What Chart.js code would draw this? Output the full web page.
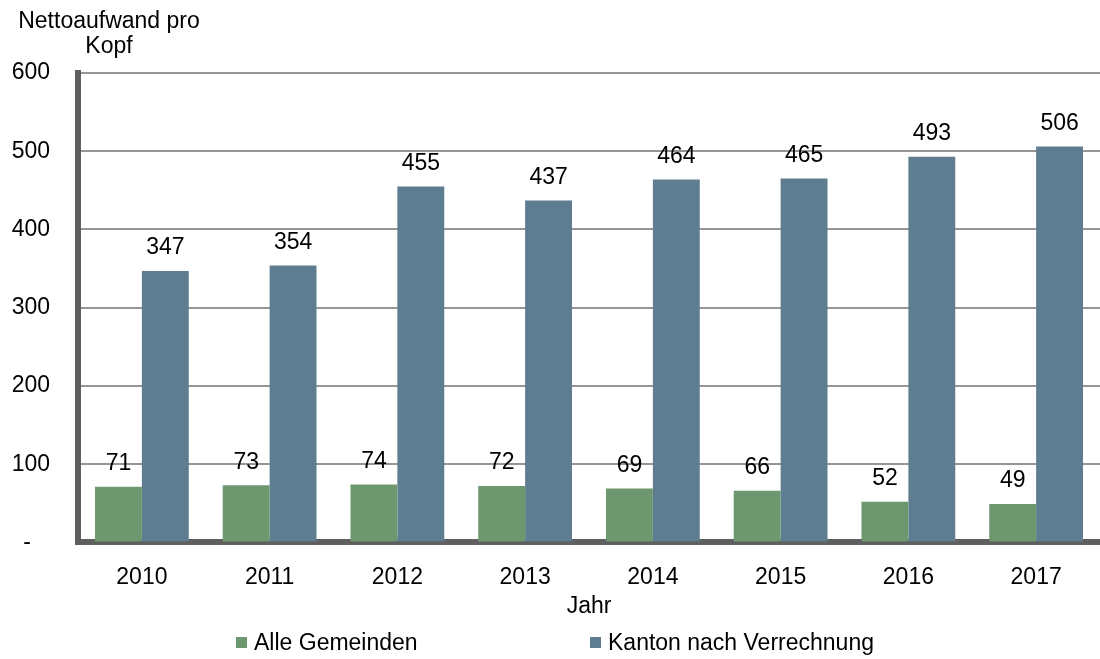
<!DOCTYPE html>
<html>
<head>
<meta charset="utf-8">
<script src="https://cdn.jsdelivr.net/npm/chart.js@4"></script>
<style>
  html, body { margin: 0; padding: 0; background: #fff; }
  #wrap { width: 1100px; height: 659px; }
</style>
</head>
<body>
<div id="wrap"><canvas id="myChart"></canvas></div>
<script>
const years = ["2010", "2011", "2012", "2013", "2014", "2015", "2016", "2017"];
const gemeinden = [71, 73, 74, 72, 69, 66, 52, 49];
const kanton = [347, 354, 455, 437, 464, 465, 493, 506];
const yTicks = [0, 100, 200, 300, 400, 500, 600];
const seriesNames = ["Alle Gemeinden", "Kanton nach Verrechnung"];
const seriesColors = ["#6d976f", "#5e7d91"];

const FONT = "'Liberation Sans', Arial, sans-serif";
const FSIZE = 23;

// value labels, axis titles and the legend row
const labelPlugin = {
    id: 'labels',
    afterDatasetsDraw(chart) {
        const ctx = chart.ctx;
        const area = chart.chartArea;
        ctx.save();
        ctx.font = FSIZE + 'px ' + FONT;
        ctx.fillStyle = '#000';
        ctx.textAlign = 'center';
        ctx.textBaseline = 'middle';
        chart.data.datasets.forEach((ds, i) => {
            chart.getDatasetMeta(i).data.forEach((bar, j) => {
                ctx.fillText(ds.data[j], bar.x, bar.y - 23);
            });
        });

        // x axis title
        ctx.fillText('Jahr', (area.left + area.right) / 2, 607);

        ctx.textBaseline = 'alphabetic';
        ctx.fillText('Nettoaufwand pro', 109, 28);
        ctx.fillText('Kopf', 109, 53);

        // legend
        const legendX = [236, 590];
        ctx.textAlign = 'left';
        ctx.textBaseline = 'middle';
        seriesNames.forEach((name, i) => {
            ctx.fillStyle = seriesColors[i];
            ctx.fillRect(legendX[i], 637, 11, 11);
            ctx.fillStyle = '#000';
            ctx.fillText(name, legendX[i] + 18, 644);
        });
        ctx.restore();
    }
};

const data = {
    labels: years,
    datasets: [{
        label: seriesNames[0],
        data: gemeinden,
        backgroundColor: seriesColors[0]
    }, {
        label: seriesNames[1],
        data: kanton,
        backgroundColor: seriesColors[1]
    }]
};

const config = {
    type: 'bar',
    data: data,
    options: {
        responsive: true,
        maintainAspectRatio: false,
        animation: false,
        layout: { padding: { top: 73, right: 0, left: 0, bottom: 55 } },
        datasets: {
            bar: { barPercentage: 1.0, categoryPercentage: 0.734 }
        },
        scales: {
            x: {
                grid: { display: false },
                border: { color: '#5f5f5f', width: 6 },
                ticks: { color: '#000', font: { size: FSIZE, family: FONT }, padding: 13 }
            },
            y: {
                min: 0,
                max: 600,
                afterFit(scale) { scale.width = 78; },
                afterBuildTicks(scale) { scale.ticks = yTicks.map(v => ({ value: v })); },
                grid: { color: '#959595', lineWidth: 2, drawTicks: false },
                border: { color: '#5f5f5f', width: 6 },
                ticks: {
                    color: '#000',
                    font: { size: FSIZE, family: FONT },
                    padding: 28,
                    callback: v => v === 0 ? '-   ' : v
                }
            }
        },
        plugins: {
            legend: { display: false },
            tooltip: { enabled: false }
        }
    },
    plugins: [labelPlugin]
};

var myChart = new Chart(document.getElementById('myChart'), config);
</script>
</body>
</html>
